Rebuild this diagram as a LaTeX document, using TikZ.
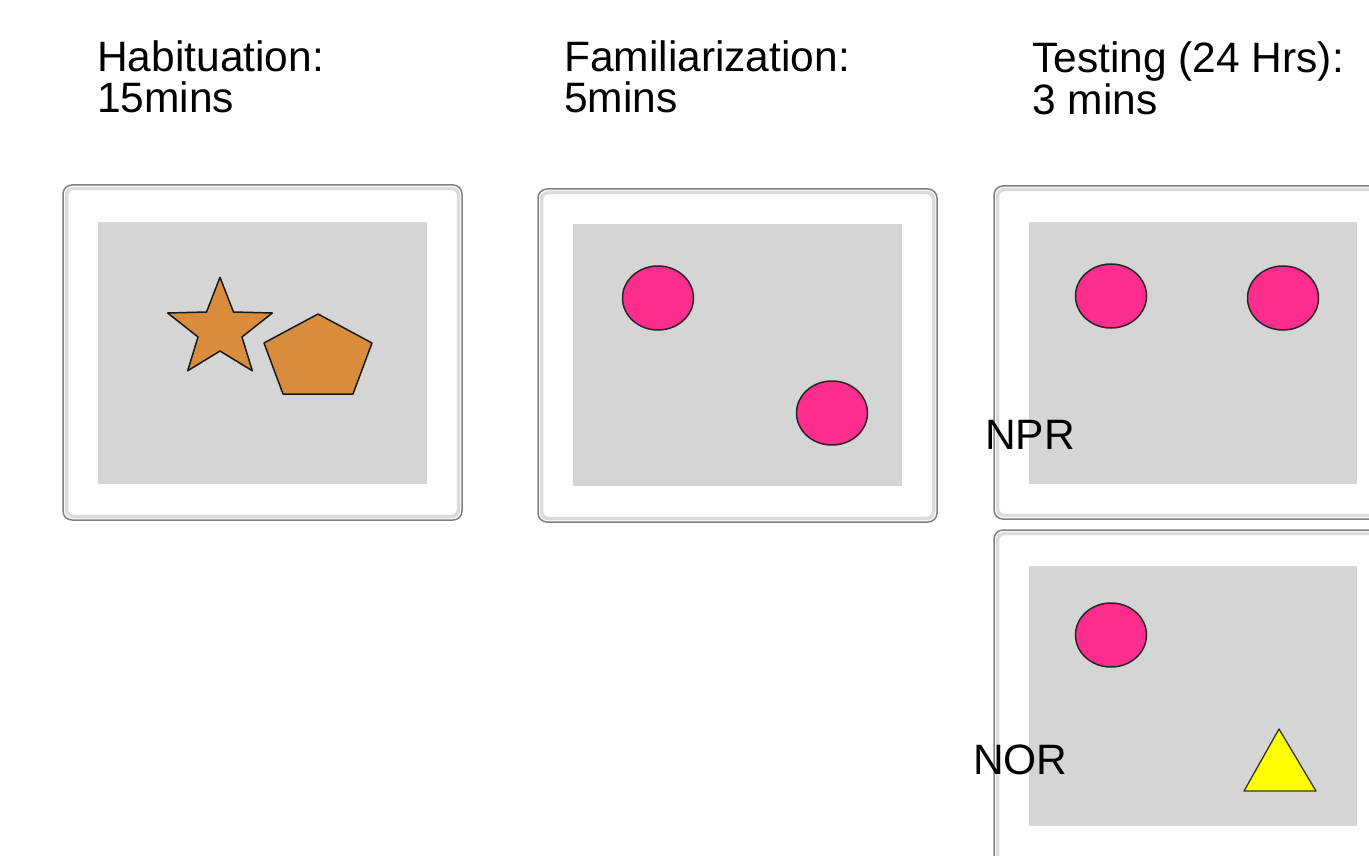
\documentclass[tikz,border=0pt]{standalone}
\usepackage{fontspec}
\setmainfont{Liberation Sans}
\definecolor{arena}{HTML}{D5D5D5}
\definecolor{pinkobj}{HTML}{FF2E8E}
\definecolor{orangeobj}{HTML}{D88C3C}
\definecolor{yellowobj}{HTML}{FFFF00}
\tikzset{
  frameout/.style={draw=black!50, line width=1.5pt, fill=white, rounded corners=9pt},
  frameshadow/.style={draw=black!14, line width=3.5pt, rounded corners=7pt},
  floor/.style={fill=arena, draw=none},
  pinkball/.style={fill=pinkobj, draw=black!85, line width=1.5pt},
  toy/.style={fill=orangeobj, draw=black!90, line width=1.5pt, line join=round},
  tri/.style={fill=yellowobj, draw=black!80, line width=1.3pt, line join=round},
  label/.style={font=\fontsize{42.5}{41}\selectfont, inner sep=0pt, align=left},
}
\begin{document}
\begin{tikzpicture}[x=1pt, y=-1pt]
\clip (0,0) rectangle (1369,856);
\fill[white] (0,0) rectangle (1369,856);

% titles
\node[label, anchor=base west] (t1) at (97,72) {Habituation:};
\node[label, anchor=base west] (t1b) at (97,113) {15mins};
\node[label, anchor=base west] (t2) at (564,72) {Familiarization:};
\node[label, anchor=base west] (t2b) at (564,113) {5mins};
\node[label, anchor=base west] (t3) at (1032,73) {Testing (24 Hrs):};
\node[label, anchor=base west] (t3b) at (1032,115) {3 mins};

% box 1: habituation
\draw[frameout] (63,185) rectangle (462,520);
\draw[frameshadow] (66.5,188.5) rectangle (458.5,516.5);
\fill[floor] (98,222) rectangle (427,484);
\draw[toy] (220,277.3) -- (233.5,312) -- (272.3,313) -- (242,337) -- (252.3,370.8)
  -- (220,351) -- (187.7,370.8) -- (198,337) -- (167.7,313) -- (206.5,312) -- cycle;
\draw[toy] (318,314) -- (372,343) -- (353,394) -- (283,394) -- (264,343) -- cycle;

% box 2: familiarization
\draw[frameout] (538,189) rectangle (937,522);
\draw[frameshadow] (541.5,192.5) rectangle (933.5,518.5);
\fill[floor] (573,224) rectangle (902,486);
\draw[pinkball] (658,298) ellipse [x radius=35.5, y radius=32];
\draw[pinkball] (832,413) ellipse [x radius=35.5, y radius=32];

% box 3: NPR
\draw[frameout] (994,186) rectangle (1393,519);
\draw[frameshadow] (997.5,189.5) rectangle (1389.5,515.5);
\fill[floor] (1029,222) rectangle (1357,484);
\draw[pinkball] (1111,296) ellipse [x radius=35.5, y radius=32];
\draw[pinkball] (1283,298) ellipse [x radius=35.5, y radius=32];
\node[label, anchor=base west] (npr) at (985,449) {NPR};

% box 4: NOR
\draw[frameout] (994,530) rectangle (1393,870);
\draw[frameshadow] (997.5,533.5) rectangle (1389.5,866.5);
\fill[floor] (1029,566) rectangle (1357,826);
\draw[pinkball] (1111,635) ellipse [x radius=35.5, y radius=32];
\draw[tri] (1279,729) -- (1316,791) -- (1244,791) -- cycle;
\node[label, anchor=base west] (nor) at (973,774) {NOR};
\end{tikzpicture}
\end{document}
